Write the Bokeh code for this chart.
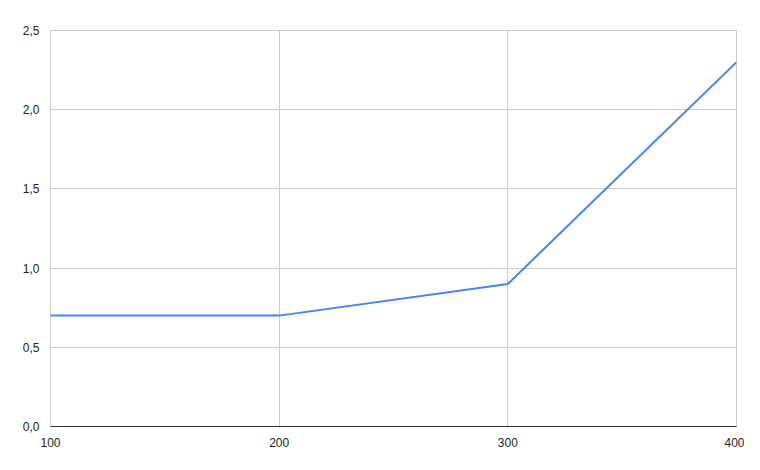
from bokeh.plotting import figure
from bokeh.models import Range1d, FixedTicker, CustomJSTickFormatter
from bokeh.embed import file_html
from bokeh.resources import INLINE

x_vals = [100, 200, 300, 400]
y_vals = [0.7, 0.7, 0.9, 2.3]
x_ticks = [100, 200, 300, 400]
y_ticks = [0.0, 0.5, 1.0, 1.5, 2.0, 2.5]

p = figure(width=744, height=454, output_backend="svg", toolbar_location=None,
           x_range=Range1d(100, 400), y_range=Range1d(0, 2.5),
           min_border_left=50, min_border_right=8, min_border_top=30, min_border_bottom=28)

p.line(x_vals, y_vals, line_color="#4285F4", line_width=2)

fmt = CustomJSTickFormatter(code="return tick.toFixed(1).replace('.', ',');")
p.yaxis.ticker = FixedTicker(ticks=y_ticks)
p.yaxis.formatter = fmt
p.xaxis.ticker = FixedTicker(ticks=x_ticks)

for ax in (p.xaxis, p.yaxis):
    ax.major_tick_line_color = None
    ax.minor_tick_line_color = None
    ax.major_label_text_font = "Liberation Sans"
    ax.major_label_text_font_size = "12px"
    ax.major_label_text_color = "#222222"
    ax.major_label_standoff = 5
p.yaxis.axis_line_color = None
p.xaxis.axis_line_color = "#333333"
p.xaxis.axis_line_width = 1

p.xgrid.grid_line_color = "#cccccc"
p.ygrid.grid_line_color = "#cccccc"
p.xgrid.ticker = FixedTicker(ticks=x_ticks)
p.ygrid.ticker = FixedTicker(ticks=y_ticks)
p.outline_line_color = "#cccccc"
p.background_fill_color = "white"
p.border_fill_color = "white"

open("out.html", "w").write(file_html(p, INLINE))
